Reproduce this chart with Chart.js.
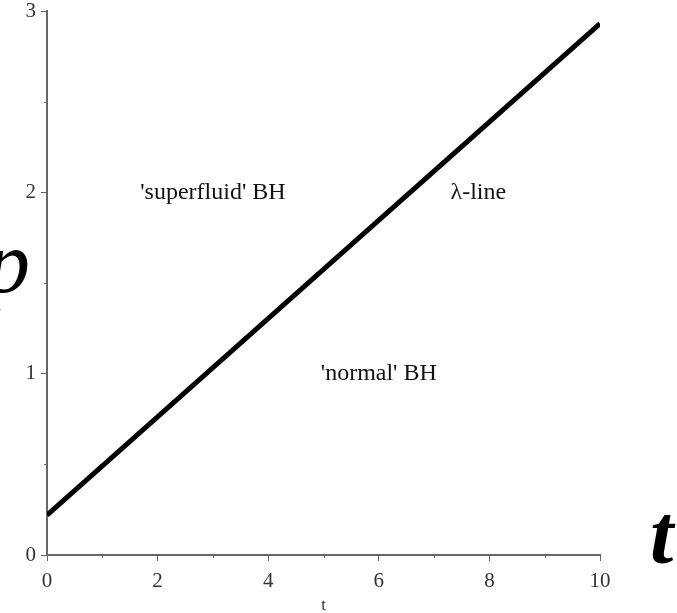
<!DOCTYPE html>
<html>
<head>
<meta charset="utf-8">
<script src="https://cdn.jsdelivr.net/npm/chart.js@4/dist/chart.umd.min.js"></script>
<style>
  html, body { margin: 0; padding: 0; background: #fff; }
  #wrap { width: 677px; height: 613px; }
</style>
</head>
<body>
<div id="wrap"><canvas id="c" width="677" height="613"></canvas></div>
<script>
// lambda line endpoints (t, p)
const lineT = [0, 10];
const lineP = [0.22, 2.93];

const xTicks = [0, 2, 4, 6, 8, 10];
const yTicks = [0, 1, 2, 3];

// region labels anchored in data coordinates
const regionText = ["'superfluid' BH", "\u03bb-line", "'normal' BH"];
const regionT = [3, 7.8, 6];
const regionP = [2, 2, 1];

const serif = '"Liberation Serif", "Times New Roman", serif';

const extras = {
    id: 'extras',
    afterDraw: (chart) => {
        const { ctx } = chart;
        const xs = chart.scales.x, ys = chart.scales.y;
        ctx.save();

        // minor ticks between labelled ones
        ctx.strokeStyle = '#666';
        ctx.lineWidth = 1;
        for (let v = 1; v < 10; v += 2) {
            const px = Math.round(xs.getPixelForValue(v)) + 0.5;
            ctx.beginPath();
            ctx.moveTo(px, ys.bottom);
            ctx.lineTo(px, ys.bottom + 3);
            ctx.stroke();
        }
        for (let v = 0.5; v < 3; v += 1) {
            const py = Math.round(ys.getPixelForValue(v)) + 0.5;
            ctx.beginPath();
            ctx.moveTo(xs.left - 3, py);
            ctx.lineTo(xs.left, py);
            ctx.stroke();
        }

        // region labels
        ctx.fillStyle = '#111';
        ctx.font = '24px ' + serif;
        ctx.textAlign = 'center';
        ctx.textBaseline = 'middle';
        regionText.forEach((s, i) => {
            ctx.fillText(s, xs.getPixelForValue(regionT[i]), ys.getPixelForValue(regionP[i]));
        });

        // small x axis name
        ctx.font = '17px ' + serif;
        ctx.fillStyle = '#333';
        ctx.fillText('t', (xs.left + xs.right) / 2, 606);

        // large axis symbols
        ctx.fillStyle = '#000';
        ctx.font = 'italic 88px ' + serif;
        ctx.textAlign = 'right';
        ctx.textBaseline = 'alphabetic';
        ctx.fillText('p', 30, 292);
        ctx.font = 'bold italic 84px ' + serif;
        ctx.textAlign = 'left';
        ctx.fillText('t', 650, 563);

        ctx.restore();
    }
};

new Chart(document.getElementById('c'), {
    type: 'scatter',
    data: {
        datasets: [{
            data: lineT.map((t, i) => ({ x: t, y: lineP[i] })),
            showLine: true,
            borderColor: '#000',
            borderWidth: 5,
            pointRadius: 0,
            borderCapStyle: 'butt'
        }]
    },
    options: {
        responsive: false,
        animation: false,
        layout: { padding: { top: 11, right: 77, left: 0, bottom: 0 } },
        plugins: { legend: { display: false }, tooltip: { enabled: false } },
        scales: {
            x: {
                type: 'linear', min: 0, max: 10,
                afterFit: (s) => { s.height = 58; s.paddingLeft = 0; s.paddingRight = 0; },
                afterBuildTicks: (s) => { s.ticks = xTicks.map(v => ({ value: v })); },
                grid: { drawOnChartArea: false, tickLength: 6, color: '#666', lineWidth: 1 },
                border: { color: '#666', width: 2 },
                ticks: { color: '#333', font: { family: serif, size: 21 }, padding: 8, maxRotation: 0 }
            },
            y: {
                type: 'linear', min: 0, max: 3,
                afterFit: (s) => { s.width = 47; s.paddingTop = 0; s.paddingBottom = 0; },
                afterBuildTicks: (s) => { s.ticks = yTicks.map(v => ({ value: v })); },
                grid: { drawOnChartArea: false, tickLength: 6, color: '#666', lineWidth: 1 },
                border: { color: '#666', width: 2 },
                ticks: { color: '#333', font: { family: serif, size: 21 }, padding: 5 }
            }
        }
    },
    plugins: [extras]
});
</script>
</body>
</html>
